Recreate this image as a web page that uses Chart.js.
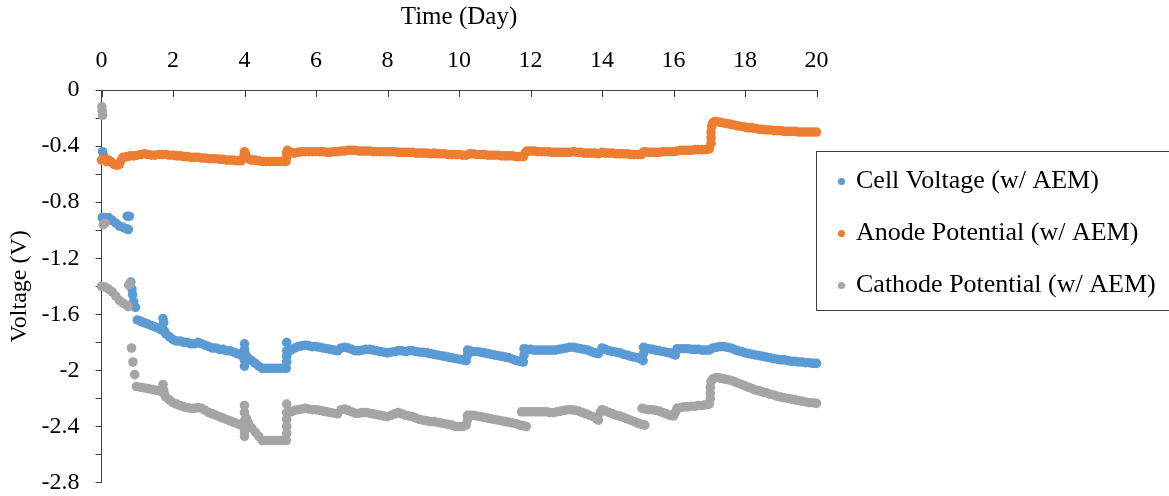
<!DOCTYPE html>
<html>
<head>
<meta charset="utf-8">
<script src="https://cdn.jsdelivr.net/npm/chart.js@4.4.1/dist/chart.umd.min.js"></script>
<style>
  html, body { margin: 0; padding: 0; background: #ffffff; }
  #wrap { position: relative; width: 1169px; height: 496px; }
</style>
</head>
<body>
<div id="wrap"><canvas id="chart"></canvas></div>
<script>
// Logged potentials of the AEM cell over 20 days: [day, volts]
const cellVoltage = [
  [0.03,-0.44],[0.06,-0.47],
  [0.02,-0.91],[0.1,-0.91],[0.2,-0.91],[0.3,-0.93],[0.4,-0.95],[0.5,-0.97],[0.6,-0.98],[0.7,-0.99],[0.75,-0.995],[0.72,-0.90],[0.78,-0.90],
  [0.82,-1.37],[0.85,-1.42],[0.87,-1.46],[0.9,-1.51],[0.95,-1.55],
  [1.0,-1.64],[1.1,-1.65],[1.2,-1.66],[1.3,-1.67],[1.4,-1.68],[1.5,-1.69],[1.6,-1.70],[1.68,-1.71],[1.72,-1.63],[1.74,-1.66],[1.76,-1.72],
  [1.8,-1.74],[1.9,-1.76],[2.0,-1.78],[2.1,-1.79],[2.2,-1.79],[2.3,-1.80],[2.4,-1.80],[2.5,-1.81],[2.6,-1.81],[2.7,-1.80],[2.8,-1.81],
  [2.9,-1.82],[3.0,-1.83],[3.1,-1.84],[3.2,-1.84],[3.3,-1.85],[3.4,-1.85],[3.5,-1.86],[3.6,-1.86],[3.7,-1.87],[3.8,-1.88],[3.9,-1.89],
  [3.97,-1.90],[4.0,-1.81],[4.0,-1.85],[4.0,-1.93],[4.0,-1.97],[4.02,-1.88],[4.1,-1.91],[4.2,-1.93],[4.3,-1.95],[4.4,-1.97],[4.5,-1.985],
  [4.6,-1.985],[4.7,-1.985],[4.8,-1.985],[4.9,-1.985],[5.0,-1.985],[5.1,-1.985],[5.17,-1.985],
  [5.18,-1.94],[5.18,-1.90],[5.18,-1.86],[5.18,-1.80],
  [5.25,-1.85],[5.3,-1.855],[5.4,-1.84],[5.5,-1.83],[5.6,-1.825],[5.7,-1.82],[5.8,-1.825],[5.9,-1.83],[6.0,-1.83],[6.1,-1.835],
  [6.2,-1.84],[6.3,-1.845],[6.4,-1.85],[6.5,-1.855],[6.6,-1.86],[6.7,-1.84],[6.8,-1.835],[6.9,-1.84],[7.0,-1.85],[7.1,-1.86],
  [7.2,-1.86],[7.3,-1.855],[7.4,-1.85],[7.5,-1.85],[7.6,-1.855],[7.7,-1.86],[7.8,-1.865],[7.9,-1.87],[8.0,-1.875],[8.1,-1.87],
  [8.2,-1.865],[8.3,-1.86],[8.4,-1.86],[8.5,-1.865],[8.6,-1.86],[8.7,-1.86],[8.8,-1.865],[8.9,-1.87],[9.0,-1.87],[9.1,-1.875],
  [9.2,-1.88],[9.3,-1.885],[9.4,-1.89],[9.5,-1.895],[9.6,-1.90],[9.7,-1.905],[9.8,-1.91],[9.9,-1.915],[10.0,-1.92],[10.1,-1.925],
  [10.2,-1.93],[10.24,-1.89],[10.24,-1.855],[10.3,-1.86],[10.4,-1.865],[10.5,-1.865],[10.6,-1.87],[10.7,-1.875],[10.8,-1.88],
  [10.9,-1.885],[11.0,-1.89],[11.1,-1.895],[11.2,-1.90],[11.3,-1.905],[11.4,-1.91],[11.5,-1.92],[11.6,-1.93],[11.7,-1.935],[11.8,-1.94],
  [11.82,-1.89],[11.82,-1.845],[11.9,-1.85],[12.0,-1.85],[12.1,-1.855],[12.2,-1.855],[12.3,-1.855],[12.4,-1.855],[12.5,-1.855],
  [12.6,-1.855],[12.7,-1.855],[12.8,-1.85],[12.9,-1.845],[13.0,-1.84],[13.1,-1.835],[13.2,-1.835],[13.3,-1.84],[13.4,-1.845],
  [13.5,-1.85],[13.6,-1.855],[13.7,-1.865],[13.8,-1.875],[13.9,-1.88],[14.0,-1.84],[14.1,-1.85],[14.2,-1.86],[14.3,-1.865],
  [14.4,-1.87],[14.5,-1.875],[14.6,-1.885],[14.7,-1.89],[14.8,-1.90],[14.9,-1.905],[15.0,-1.91],[15.1,-1.92],[15.15,-1.93],
  [15.16,-1.88],[15.16,-1.835],[15.2,-1.84],[15.3,-1.845],[15.4,-1.85],[15.5,-1.855],[15.6,-1.86],[15.7,-1.865],[15.8,-1.87],
  [15.9,-1.875],[16.0,-1.885],[16.05,-1.89],[16.1,-1.845],[16.2,-1.845],[16.3,-1.845],[16.4,-1.845],[16.5,-1.85],[16.6,-1.85],
  [16.7,-1.85],[16.8,-1.855],[16.9,-1.855],[17.0,-1.855],[17.1,-1.84],[17.2,-1.835],[17.3,-1.83],[17.4,-1.83],[17.5,-1.835],
  [17.6,-1.84],[17.7,-1.85],[17.8,-1.86],[17.9,-1.865],[18.0,-1.875],[18.1,-1.88],[18.2,-1.885],[18.3,-1.89],[18.4,-1.895],
  [18.5,-1.90],[18.6,-1.905],[18.7,-1.91],[18.8,-1.915],[18.9,-1.92],[19.0,-1.925],[19.1,-1.925],[19.2,-1.93],[19.3,-1.935],
  [19.4,-1.935],[19.5,-1.94],[19.6,-1.94],[19.7,-1.945],[19.8,-1.945],[19.9,-1.95],[20.0,-1.95]
];

const anodePotential = [
  [0.0,-0.50],[0.05,-0.49],[0.1,-0.50],[0.15,-0.51],[0.2,-0.50],[0.25,-0.51],[0.3,-0.52],[0.35,-0.53],[0.4,-0.535],[0.45,-0.535],
  [0.5,-0.53],[0.55,-0.50],[0.6,-0.48],[0.7,-0.475],[0.8,-0.47],[0.9,-0.47],[1.0,-0.465],[1.1,-0.46],[1.2,-0.455],[1.3,-0.46],
  [1.4,-0.465],[1.5,-0.465],[1.6,-0.46],[1.7,-0.46],[1.8,-0.46],[1.9,-0.465],[2.0,-0.465],[2.1,-0.47],[2.2,-0.47],[2.3,-0.475],
  [2.4,-0.475],[2.5,-0.48],[2.6,-0.48],[2.7,-0.48],[2.8,-0.485],[2.9,-0.485],[3.0,-0.49],[3.1,-0.49],[3.2,-0.49],[3.3,-0.495],
  [3.4,-0.495],[3.5,-0.50],[3.6,-0.50],[3.7,-0.50],[3.8,-0.505],[3.9,-0.505],[3.98,-0.47],[4.0,-0.44],[4.03,-0.46],[4.1,-0.49],
  [4.2,-0.50],[4.3,-0.50],[4.4,-0.505],[4.5,-0.51],[4.6,-0.51],[4.7,-0.51],[4.8,-0.51],[4.9,-0.51],[5.0,-0.51],[5.1,-0.51],
  [5.16,-0.51],[5.18,-0.48],[5.18,-0.45],[5.2,-0.43],[5.3,-0.445],[5.4,-0.45],[5.5,-0.445],[5.6,-0.44],[5.7,-0.44],[5.8,-0.44],
  [5.9,-0.44],[6.0,-0.44],[6.1,-0.44],[6.2,-0.44],[6.3,-0.445],[6.4,-0.445],[6.5,-0.44],[6.6,-0.44],[6.7,-0.435],[6.8,-0.435],
  [6.9,-0.43],[7.0,-0.43],[7.1,-0.43],[7.2,-0.435],[7.3,-0.435],[7.4,-0.435],[7.5,-0.435],[7.6,-0.44],[7.7,-0.44],[7.8,-0.44],
  [7.9,-0.44],[8.0,-0.44],[8.1,-0.44],[8.2,-0.44],[8.3,-0.445],[8.4,-0.445],[8.5,-0.445],[8.6,-0.445],[8.7,-0.445],[8.8,-0.45],
  [8.9,-0.45],[9.0,-0.45],[9.1,-0.45],[9.2,-0.455],[9.3,-0.45],[9.4,-0.455],[9.5,-0.455],[9.6,-0.455],[9.7,-0.46],[9.8,-0.46],
  [9.9,-0.46],[10.0,-0.46],[10.1,-0.465],[10.2,-0.465],[10.3,-0.455],[10.4,-0.455],[10.5,-0.46],[10.6,-0.46],[10.7,-0.46],
  [10.8,-0.465],[10.9,-0.465],[11.0,-0.465],[11.1,-0.465],[11.2,-0.47],[11.3,-0.47],[11.4,-0.47],[11.5,-0.47],[11.6,-0.475],
  [11.7,-0.475],[11.8,-0.475],[11.85,-0.45],[11.9,-0.435],[12.0,-0.435],[12.1,-0.435],[12.2,-0.44],[12.3,-0.44],[12.4,-0.44],
  [12.5,-0.44],[12.6,-0.445],[12.7,-0.445],[12.8,-0.445],[12.9,-0.445],[13.0,-0.445],[13.1,-0.445],[13.2,-0.44],[13.3,-0.445],
  [13.4,-0.445],[13.5,-0.45],[13.6,-0.45],[13.7,-0.45],[13.8,-0.45],[13.9,-0.455],[14.0,-0.445],[14.1,-0.45],[14.2,-0.45],
  [14.3,-0.45],[14.4,-0.455],[14.5,-0.455],[14.6,-0.455],[14.7,-0.455],[14.8,-0.46],[14.9,-0.46],[15.0,-0.46],[15.1,-0.46],
  [15.15,-0.445],[15.2,-0.44],[15.3,-0.445],[15.4,-0.445],[15.5,-0.445],[15.6,-0.445],[15.7,-0.44],[15.8,-0.44],[15.9,-0.44],
  [16.0,-0.44],[16.1,-0.435],[16.2,-0.43],[16.3,-0.43],[16.4,-0.43],[16.5,-0.43],[16.6,-0.425],[16.7,-0.425],[16.8,-0.425],
  [16.9,-0.425],[17.0,-0.42],[17.05,-0.38],[17.05,-0.34],[17.05,-0.30],[17.07,-0.26],[17.1,-0.235],[17.15,-0.225],[17.2,-0.225],
  [17.3,-0.23],[17.4,-0.235],[17.5,-0.24],[17.6,-0.245],[17.7,-0.25],[17.8,-0.255],[17.9,-0.26],[18.0,-0.265],[18.1,-0.27],
  [18.2,-0.27],[18.3,-0.275],[18.4,-0.28],[18.5,-0.28],[18.6,-0.285],[18.7,-0.285],[18.8,-0.29],[18.9,-0.29],[19.0,-0.29],
  [19.1,-0.295],[19.2,-0.295],[19.3,-0.295],[19.4,-0.295],[19.5,-0.30],[19.6,-0.30],[19.7,-0.30],[19.8,-0.30],[19.9,-0.30],[20.0,-0.30]
];

const cathodePotential = [
  [0.01,-0.12],[0.02,-0.15],[0.03,-0.18],
  [0.05,-0.96],[0.1,-0.95],
  [0.0,-1.40],[0.1,-1.405],[0.2,-1.42],[0.3,-1.44],[0.4,-1.47],[0.5,-1.50],[0.6,-1.52],[0.7,-1.535],[0.75,-1.545],[0.76,-1.39],[0.8,-1.38],
  [0.84,-1.84],[0.88,-1.94],[0.93,-2.03],
  [0.98,-2.115],[1.1,-2.12],[1.2,-2.125],[1.3,-2.13],[1.4,-2.135],[1.5,-2.14],[1.6,-2.145],[1.68,-2.15],[1.72,-2.10],[1.74,-2.14],
  [1.76,-2.17],[1.8,-2.19],[1.9,-2.21],[2.0,-2.23],[2.1,-2.24],[2.2,-2.25],[2.3,-2.26],[2.4,-2.265],[2.5,-2.27],[2.6,-2.27],
  [2.7,-2.265],[2.8,-2.27],[2.9,-2.285],[3.0,-2.30],[3.1,-2.31],[3.2,-2.32],[3.3,-2.33],[3.4,-2.34],[3.5,-2.35],[3.6,-2.36],
  [3.7,-2.37],[3.8,-2.38],[3.9,-2.39],[3.97,-2.40],[4.0,-2.25],[4.0,-2.30],[4.0,-2.36],[4.0,-2.44],[4.0,-2.47],[4.05,-2.34],
  [4.1,-2.37],[4.2,-2.41],[4.3,-2.44],[4.4,-2.47],[4.5,-2.50],[4.6,-2.50],[4.7,-2.50],[4.8,-2.50],[4.9,-2.50],[5.0,-2.50],
  [5.1,-2.50],[5.17,-2.50],[5.18,-2.45],[5.18,-2.40],[5.18,-2.35],[5.18,-2.30],[5.18,-2.24],
  [5.25,-2.29],[5.3,-2.295],[5.4,-2.285],[5.5,-2.28],[5.6,-2.275],[5.7,-2.27],[5.8,-2.275],[5.9,-2.28],[6.0,-2.28],[6.1,-2.285],
  [6.2,-2.29],[6.3,-2.295],[6.4,-2.30],[6.5,-2.305],[6.6,-2.31],[6.7,-2.28],[6.8,-2.275],[6.9,-2.285],[7.0,-2.295],[7.1,-2.305],
  [7.2,-2.305],[7.3,-2.30],[7.4,-2.30],[7.5,-2.305],[7.6,-2.31],[7.7,-2.315],[7.8,-2.32],[7.9,-2.325],[8.0,-2.33],[8.1,-2.32],
  [8.2,-2.31],[8.3,-2.30],[8.4,-2.31],[8.5,-2.32],[8.6,-2.325],[8.7,-2.33],[8.8,-2.34],[8.9,-2.35],[9.0,-2.355],[9.1,-2.36],
  [9.2,-2.365],[9.3,-2.365],[9.4,-2.37],[9.5,-2.375],[9.6,-2.38],[9.7,-2.385],[9.8,-2.39],[9.9,-2.40],[10.0,-2.40],[10.1,-2.40],
  [10.2,-2.39],[10.24,-2.35],[10.24,-2.32],[10.3,-2.32],[10.4,-2.32],[10.5,-2.325],[10.6,-2.33],[10.7,-2.335],[10.8,-2.34],
  [10.9,-2.345],[11.0,-2.35],[11.1,-2.355],[11.2,-2.36],[11.3,-2.365],[11.4,-2.37],[11.5,-2.375],[11.6,-2.38],[11.7,-2.39],
  [11.8,-2.395],[11.88,-2.40],
  [11.75,-2.295],[11.85,-2.295],[11.95,-2.295],[12.05,-2.295],[12.15,-2.295],[12.25,-2.295],[12.35,-2.295],[12.45,-2.295],
  [12.55,-2.30],[12.65,-2.30],[12.75,-2.295],[12.85,-2.29],[12.95,-2.285],[13.05,-2.28],[13.15,-2.28],[13.25,-2.285],[13.35,-2.29],
  [13.45,-2.30],[13.55,-2.31],[13.65,-2.32],[13.75,-2.33],[13.85,-2.345],[13.9,-2.355],[13.95,-2.30],[14.0,-2.28],[14.1,-2.29],
  [14.2,-2.30],[14.3,-2.31],[14.4,-2.32],[14.5,-2.325],[14.6,-2.335],[14.7,-2.345],[14.8,-2.355],[14.9,-2.365],[15.0,-2.375],
  [15.1,-2.385],[15.2,-2.39],
  [15.12,-2.27],[15.2,-2.275],[15.3,-2.28],[15.4,-2.28],[15.5,-2.285],[15.6,-2.29],[15.7,-2.30],[15.8,-2.31],[15.9,-2.32],
  [16.0,-2.325],[16.05,-2.30],[16.1,-2.27],[16.2,-2.265],[16.3,-2.26],[16.4,-2.26],[16.5,-2.255],[16.6,-2.255],[16.7,-2.25],
  [16.8,-2.25],[16.9,-2.245],[17.0,-2.24],[17.03,-2.20],[17.03,-2.16],[17.03,-2.12],[17.05,-2.08],[17.1,-2.06],[17.2,-2.05],
  [17.3,-2.055],[17.4,-2.06],[17.5,-2.065],[17.6,-2.07],[17.7,-2.08],[17.8,-2.09],[17.9,-2.10],[18.0,-2.11],[18.1,-2.12],
  [18.2,-2.13],[18.3,-2.14],[18.4,-2.145],[18.5,-2.155],[18.6,-2.16],[18.7,-2.17],[18.8,-2.175],[18.9,-2.185],[19.0,-2.19],
  [19.1,-2.195],[19.2,-2.20],[19.3,-2.205],[19.4,-2.21],[19.5,-2.215],[19.6,-2.22],[19.7,-2.225],[19.8,-2.23],[19.9,-2.23],[20.0,-2.235]
];

const seriesNames = ['Cell Voltage (w/ AEM)', 'Anode Potential (w/ AEM)', 'Cathode Potential (w/ AEM)'];
const seriesColors = ['#5B9BD5', '#ED7D31', '#A5A5A5'];
const dayTicks = [0, 2, 4, 6, 8, 10, 12, 14, 16, 18, 20];

const SERIF = '"Liberation Serif", "Times New Roman", serif';
const AXIS_COLOR = '#404040';

const toPoints = arr => arr.map(p => ({ x: p[0], y: p[1] }));

// Tick marks on the top axis point down into the plot
const innerTopTicks = {
  id: 'innerTopTicks',
  afterDraw(chart) {
    const { ctx, scales } = chart;
    const xs = scales.x;
    const y0 = chart.chartArea.top;
    ctx.save();
    ctx.strokeStyle = AXIS_COLOR;
    ctx.lineWidth = 1;
    dayTicks.forEach(d => {
      const px = Math.round(xs.getPixelForValue(d)) + 0.5;
      ctx.beginPath();
      ctx.moveTo(px, y0);
      ctx.lineTo(px, y0 + 7);
      ctx.stroke();
    });
    ctx.restore();
  }
};

// Boxed legend on the right side
const boxedLegend = {
  id: 'boxedLegend',
  afterDraw(chart) {
    const { ctx } = chart;
    const left = 816.5, top = 151.5, bottom = 310.5, right = 1175;
    ctx.save();
    ctx.strokeStyle = AXIS_COLOR;
    ctx.lineWidth = 1;
    ctx.strokeRect(left, top, right - left, bottom - top);
    const rows = [181.5, 233.5, 285.5];
    ctx.font = '26px ' + SERIF;
    ctx.textBaseline = 'middle';
    ctx.textAlign = 'left';
    seriesNames.forEach((name, i) => {
      ctx.fillStyle = seriesColors[i];
      ctx.beginPath();
      ctx.arc(841.5, rows[i], 3.5, 0, Math.PI * 2);
      ctx.fill();
      ctx.fillStyle = '#000000';
      ctx.fillText(name, 856, rows[i]);
    });
    ctx.restore();
  }
};

const datasets = [cellVoltage, anodePotential, cathodePotential].map((arr, i) => ({
  label: seriesNames[i],
  data: toPoints(arr),
  backgroundColor: seriesColors[i],
  borderColor: seriesColors[i],
  borderWidth: 0,
  pointRadius: 4.8,
  pointHoverRadius: 4.8,
  showLine: false,
  clip: false,
  order: 2 - i
}));

new Chart(document.getElementById('chart'), {
  type: 'scatter',
  data: { datasets },
  plugins: [innerTopTicks, boxedLegend],
  options: {
    responsive: true,
    maintainAspectRatio: false,
    animation: false,
    devicePixelRatio: 1,
    layout: { padding: { left: 0, top: 0, right: 352.5, bottom: 13.4 } },
    plugins: { legend: { display: false }, tooltip: { enabled: false } },
    scales: {
      x: {
        type: 'linear',
        position: 'top',
        min: 0,
        max: 20,
        afterBuildTicks: s => { s.ticks = dayTicks.map(v => ({ value: v })); },
        afterFit: s => { s.height = 90; s.paddingLeft = 0; s.paddingRight = 0; },
        ticks: { color: '#000000', font: { family: SERIF, size: 24 }, padding: 15, maxRotation: 0, autoSkip: false },
        grid: { drawOnChartArea: false, drawTicks: false },
        border: { display: true, color: AXIS_COLOR, width: 1 },
        title: { display: true, text: 'Time (Day)', color: '#000000', font: { family: SERIF, size: 25 }, padding: { top: 2, bottom: 0 } }
      },
      y: {
        type: 'linear',
        min: -2.8,
        max: 0,
        afterFit: s => { s.width = 101.5; s.paddingTop = 0; s.paddingBottom = 0; },
        ticks: {
          stepSize: 0.2,
          autoSkip: false,
          color: '#000000',
          font: { family: SERIF, size: 24 },
          padding: 16,
          callback: v => {
            const t = Math.round(v * 10);
            if (t % 4 !== 0) return '';
            const n = t / 10;
            return n === 0 ? '0' : String(n);
          }
        },
        grid: { drawOnChartArea: false, drawTicks: true, tickLength: 6, color: AXIS_COLOR },
        border: { display: true, color: AXIS_COLOR, width: 1 },
        title: { display: true, text: 'Voltage (V)', color: '#000000', font: { family: SERIF, size: 24 }, padding: { top: 5, bottom: 0 } }
      }
    }
  }
});
</script>
</body>
</html>
